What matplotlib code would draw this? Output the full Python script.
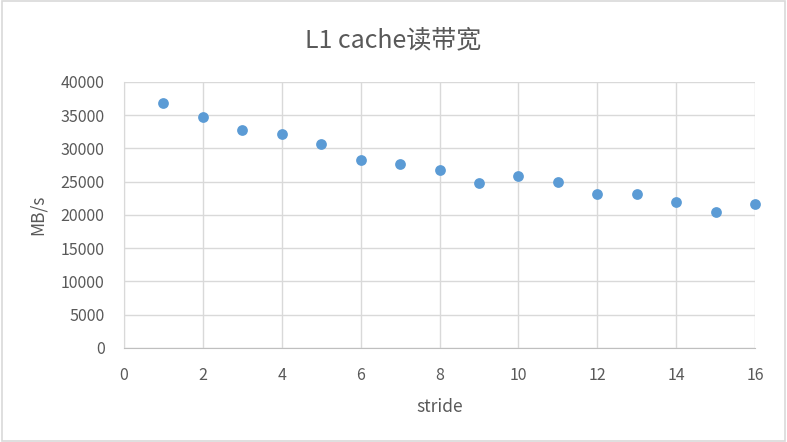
import matplotlib
matplotlib.use("Agg")
import matplotlib.pyplot as plt
from matplotlib.patches import Rectangle

plt.rcParams['font.family'] = ['Noto Sans CJK SC', 'DejaVu Sans']

stride = [1, 2, 3, 4, 5, 6, 7, 8, 9, 10, 11, 12, 13, 14, 15, 16]
bandwidth = [36800, 34800, 32800, 32200, 30700, 28300, 27600, 26800,
             24800, 25900, 24900, 23200, 23100, 21900, 20400, 21600]

text_color = "#595959"
grid_color = "#D9D9D9"

fig = plt.figure(figsize=(7.87, 4.42), dpi=100)
ax = fig.add_axes([0.1576, 0.2127, 0.8017, 0.6018])

ax.scatter(stride, bandwidth, s=60, color="#5B9BD5", zorder=3, linewidths=0, clip_on=False)

ax.set_xlim(0, 16)
ax.set_ylim(0, 40000)
ax.set_xticks(range(0, 17, 2))
ax.set_yticks(range(0, 40001, 5000))
ax.grid(True, color=grid_color, linewidth=1)
ax.set_axisbelow(True)

for side in ["top", "right"]:
    ax.spines[side].set_visible(False)
ax.spines["left"].set_color(grid_color)
ax.spines["bottom"].set_color("#BFBFBF")
ax.tick_params(axis="y", length=0, colors=text_color, labelsize=11.5, pad=14)
ax.tick_params(axis="x", length=0, colors=text_color, labelsize=11.5, pad=14)

ax.set_xlabel("stride", color=text_color, fontsize=12.5, labelpad=10)
ax.set_ylabel("MB/s", color=text_color, fontsize=12.5, labelpad=10)
fig.text(0.5, 1 - 40 / 442, "L1 cache读带宽", color=text_color, fontsize=18,
         ha="center", va="center")

fig.patches.append(Rectangle((0.002, 0.003), 0.996, 0.994, transform=fig.transFigure,
                             fill=False, edgecolor="#D9D9D9", linewidth=1.2))

plt.savefig("out.png", dpi=100)
